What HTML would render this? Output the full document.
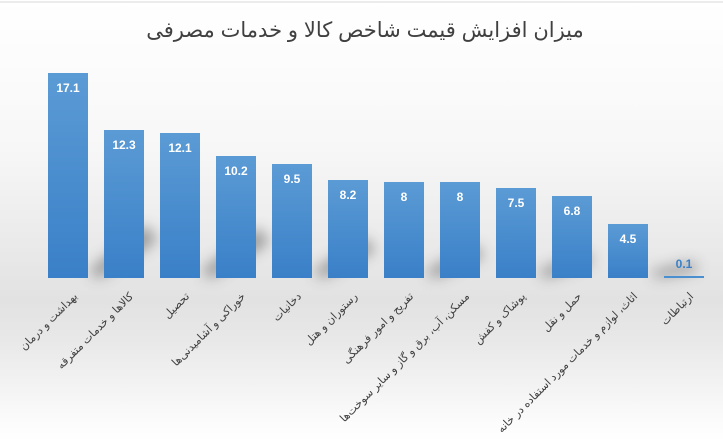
<!DOCTYPE html>
<html><head><meta charset="utf-8"><style>
html,body{margin:0;padding:0;}
body{width:723px;height:442px;overflow:hidden;background:linear-gradient(to bottom,#ffffff 0px,#f7f7f7 150px,#e2e2e2 300px,#e8e8e8 340px,#fbfbfb 420px,#ffffff 442px);}
svg{display:block}
</style></head><body>
<svg width="723" height="442" xmlns="http://www.w3.org/2000/svg">
<defs>
<linearGradient id="b" x1="0" y1="0" x2="0" y2="1">
<stop offset="0" stop-color="#5b9bd5"/><stop offset="1" stop-color="#3a80c8"/></linearGradient>
<filter id="s" x="-50%" y="-50%" width="200%" height="200%"><feGaussianBlur stdDeviation="7"/></filter>
</defs>
<line x1="0" y1="2" x2="723" y2="2" stroke="#d9d9d9" stroke-width="1"/>
<text x="365" y="37" text-anchor="middle" font-family="Liberation Sans, DejaVu Sans, sans-serif" font-size="21" fill="#404040" direction="rtl">میزان افزایش قیمت شاخص کالا و خدمات مصرفی</text>
<g fill="#444" opacity="0.5" filter="url(#s)">
<polygon points="88,272 145,225 158,240 100,278"/>
<polygon points="200,272 258,228 270,242 212,278"/>
<polygon points="312,272 365,238 376,250 324,278"/>
<polygon points="424,272 475,245 485,256 436,278"/>
<polygon points="536,272 585,252 594,262 548,278"/>
<polygon points="648,272 692,262 700,270 660,278"/>
</g>
<g font-family="Liberation Sans, DejaVu Sans, sans-serif" font-size="12" font-weight="bold" fill="#fff" text-anchor="middle">
<rect x="48" y="73" width="40" height="205" fill="url(#b)"/><text x="68" y="92">17.1</text>
<rect x="104" y="130" width="40" height="148" fill="url(#b)"/><text x="124" y="149">12.3</text>
<rect x="160" y="133" width="40" height="145" fill="url(#b)"/><text x="180" y="152">12.1</text>
<rect x="216" y="156" width="40" height="122" fill="url(#b)"/><text x="236" y="175">10.2</text>
<rect x="272" y="164" width="40" height="114" fill="url(#b)"/><text x="292" y="183">9.5</text>
<rect x="328" y="180" width="40" height="98" fill="url(#b)"/><text x="348" y="199">8.2</text>
<rect x="384" y="182" width="40" height="96" fill="url(#b)"/><text x="404" y="201">8</text>
<rect x="440" y="182" width="40" height="96" fill="url(#b)"/><text x="460" y="201">8</text>
<rect x="496" y="188" width="40" height="90" fill="url(#b)"/><text x="516" y="207">7.5</text>
<rect x="552" y="196" width="40" height="82" fill="url(#b)"/><text x="572" y="215">6.8</text>
<rect x="608" y="224" width="40" height="54" fill="url(#b)"/><text x="628" y="243">4.5</text>
<rect x="664" y="276" width="40" height="2" fill="#4a8fd0"/><text x="684" y="268" fill="#3a80c8">0.1</text>
</g>
<g font-family="Liberation Sans, Noto Sans CJK SC, DejaVu Sans, sans-serif" font-size="11" fill="#404040" text-anchor="start" direction="rtl">
<text transform="translate(78,297) rotate(-45)">بهداشت و درمان</text>
<text transform="translate(134,297) rotate(-45)">کالاها و خدمات متفرقه</text>
<text transform="translate(190,297) rotate(-45)">تحصیل</text>
<text transform="translate(246,297) rotate(-45)">خوراکی و آشامیدنی‌ها</text>
<text transform="translate(302,297) rotate(-45)">دخانیات</text>
<text transform="translate(358,297) rotate(-45)">رستوران و هتل</text>
<text transform="translate(414,297) rotate(-45)">تفریح و امور فرهنگی</text>
<text transform="translate(470,297) rotate(-45)">مسکن، آب، برق و گاز و سایر سوخت‌ها</text>
<text transform="translate(526,297) rotate(-45)">پوشاک و کفش</text>
<text transform="translate(582,297) rotate(-45)">حمل و نقل</text>
<text transform="translate(638,297) rotate(-45)">اثاث، لوازم و خدمات مورد استفاده در خانه</text>
<text transform="translate(694,297) rotate(-45)">ارتباطات</text>
</g>
</svg>
</body></html>
